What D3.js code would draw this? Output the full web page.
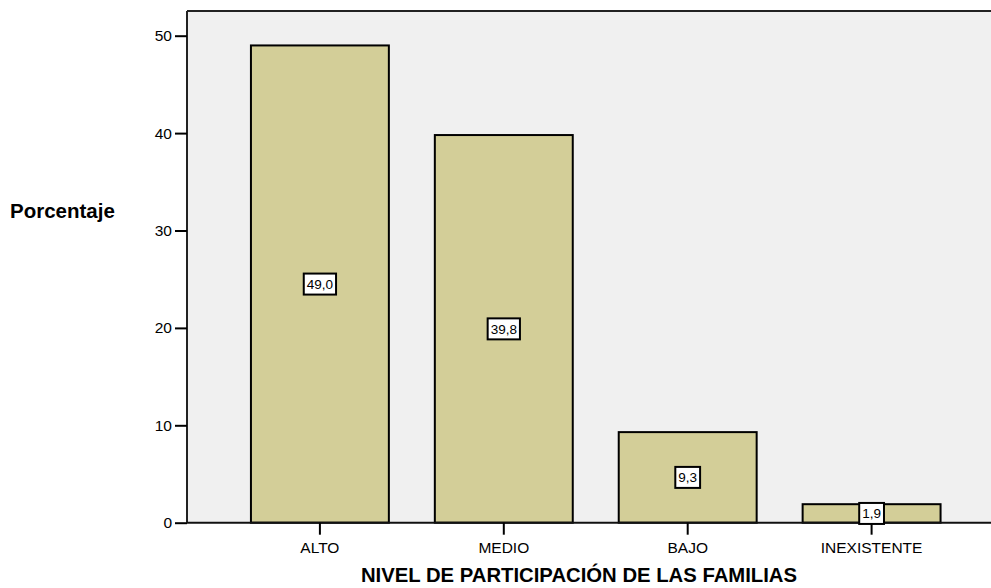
<!DOCTYPE html>
<html><head><meta charset="utf-8">
<script src="https://cdn.jsdelivr.net/npm/d3@7"></script>
<style>body{margin:0;background:#fff}svg{display:block}text{font-family:"Liberation Sans",Arial,sans-serif}</style>
</head><body>
<svg id="c" width="991" height="588"></svg>
<script>
const categories = ["ALTO", "MEDIO", "BAJO", "INEXISTENTE"];
const values = [49.0, 39.8, 9.3, 1.9];
const valueLabels = ["49,0", "39,8", "9,3", "1,9"];
const yTicks = [0, 10, 20, 30, 40, 50];

const svg = d3.select("#c");
const L = 187, T = 11, B = 522.7, R = 1004.5;
const x = d3.scaleBand().domain(categories).range([L, R]).paddingInner(0.25).paddingOuter(0.3477);
const y = d3.scaleLinear().domain([0, 50]).range([B, 35.7]);

svg.append("rect").attr("x", L).attr("y", T).attr("width", R - L + 10).attr("height", B - T).attr("fill", "#f0f0f0");

svg.selectAll("rect.bar").data(values).enter().append("rect").attr("class", "bar")
  .attr("x", (d, i) => x(categories[i])).attr("width", x.bandwidth())
  .attr("y", d => y(d)).attr("height", d => B - y(d))
  .attr("fill", "#d3ce98").attr("stroke", "#000").attr("stroke-width", 2);

svg.append("line").attr("x1", L).attr("x2", 991).attr("y1", T).attr("y2", T).attr("stroke", "#222").attr("stroke-width", 2);

const ya = svg.append("g").attr("transform", `translate(${L},0)`)
  .call(d3.axisLeft(y).tickValues(yTicks).tickSize(12).tickPadding(3).tickFormat(d3.format("d")));
ya.select(".domain").attr("d", `M0,${B}V${T}`).attr("stroke-width", 2).attr("stroke", "#222");
ya.selectAll(".tick line").attr("stroke-width", 2);
ya.selectAll(".tick text").attr("font-size", 15.5).attr("fill", "#000").attr("font-family", "Liberation Sans, Arial, sans-serif");

const xa = svg.append("g").attr("transform", `translate(0,${B})`)
  .call(d3.axisBottom(x).tickSize(12).tickPadding(7));
xa.select(".domain").attr("d", `M${L},0H991`).attr("stroke-width", 2).attr("stroke", "#111");
xa.selectAll(".tick line").attr("stroke-width", 2);
xa.selectAll(".tick text").attr("font-size", 15.5).attr("fill", "#000").attr("font-family", "Liberation Sans, Arial, sans-serif");

const lg = svg.selectAll("g.vl").data(values).enter().append("g").attr("class", "vl")
  .attr("transform", (d, i) => {
    const cx = x(categories[i]) + x.bandwidth() / 2;
    const cy = d < 5 ? y(d / 2) : (y(d) + B) / 2;
    return `translate(${cx},${cy})`;
  });
lg.each(function (d, i) {
  const g = d3.select(this);
  const t = g.append("text").attr("text-anchor", "middle").attr("dy", "0.36em").attr("font-size", 13.5).text(valueLabels[i]);
  const w = t.node().getComputedTextLength() + 6;
  g.insert("rect", "text").attr("x", -w / 2).attr("y", -10.5).attr("width", w).attr("height", 21)
    .attr("fill", "#fff").attr("stroke", "#000").attr("stroke-width", 2);
});

svg.append("text").attr("x", 10).attr("y", 218).attr("font-size", 20.5).attr("font-weight", "bold").text("Porcentaje");
svg.append("text").attr("x", 579).attr("y", 582).attr("text-anchor", "middle").attr("font-size", 20.3).attr("font-weight", "bold").text("NIVEL DE PARTICIPACIÓN DE LAS FAMILIAS");
</script>
</body></html>
